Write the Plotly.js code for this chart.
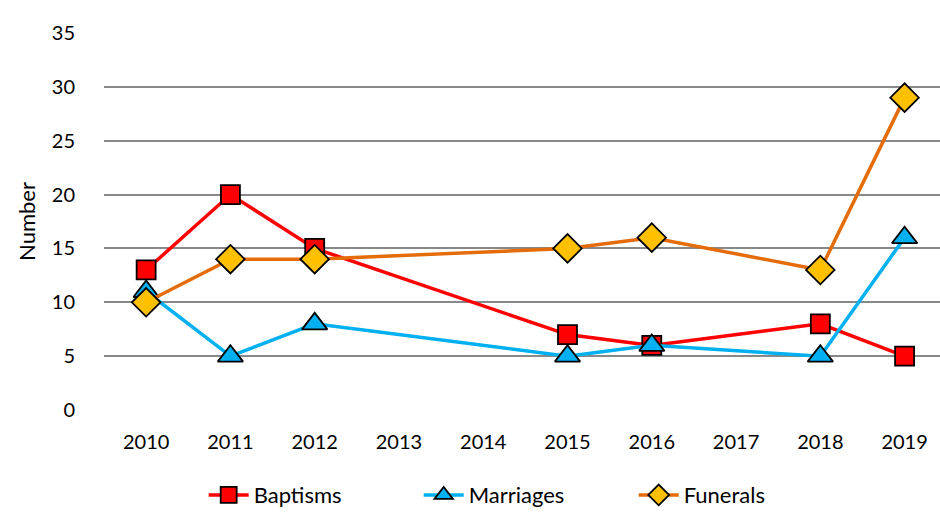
<!DOCTYPE html>
<html>
<head>
<meta charset="utf-8">
<script src="https://cdn.plot.ly/plotly-3.0.1.min.js"></script>
<style>html,body{margin:0;padding:0;background:#fff;}#chart{width:940px;height:517px;}</style>
</head>
<body>
<div id="chart"></div>
<script>
const years = ["2010","2011","2012","2013","2014","2015","2016","2017","2018","2019"];
const baptisms  = [13, 20, 15, null, null, 7, 6, null, 8, 5];
const marriages = [11, 5, 8, null, null, 5, 6, null, 5, 16];
const funerals  = [10, 14, 14, null, null, 15, 16, null, 13, 29];

const font = "Lato, 'Open Sans', sans-serif";

const traces = [
  {name:"Baptisms", x:years, y:baptisms, type:"scatter", mode:"lines+markers", connectgaps:true,
   line:{color:"#FF0000", width:3.5},
   marker:{symbol:"square", size:19, color:"#FF0000", line:{color:"#000", width:1.8}}},
  {name:"Marriages", x:years, y:marriages, type:"scatter", mode:"lines+markers", connectgaps:true,
   line:{color:"#00B0F0", width:3.5},
   marker:{symbol:"triangle-up", size:22, color:"#00B0F0", line:{color:"#000", width:1.8}}},
  {name:"Funerals", x:years, y:funerals, type:"scatter", mode:"lines+markers", connectgaps:true,
   line:{color:"#E46C0A", width:3.5},
   marker:{symbol:"diamond", size:22, color:"#FFC000", line:{color:"#000", width:1.8}}}
];

const layout = {
  width:940, height:517,
  margin:{l:104, r:0, t:33, b:107},
  paper_bgcolor:"#fff", plot_bgcolor:"#fff",
  font:{family:font, size:20, color:"#000"},
  showlegend:true,
  legend:{orientation:"h", x:0.505, xanchor:"center", y:-0.17, yanchor:"top",
          font:{family:font, size:22}, itemwidth:40, entrywidth:160, entrywidthmode:"pixels",
          traceorder:"normal"},
  xaxis:{type:"category", range:[-0.5, 9.42], showgrid:false, zeroline:false, showline:false,
         ticks:"outside", ticklen:14, tickcolor:"rgba(0,0,0,0)", tickfont:{size:20}},
  yaxis:{range:[0,35], dtick:5, showgrid:true, gridcolor:"#888888", gridwidth:2,
         zeroline:false, showline:false, ticks:"outside", ticklen:24, tickcolor:"rgba(0,0,0,0)",
         tickfont:{size:20},
         title:{text:"Number", font:{size:22}, standoff:10}}
};

Plotly.newPlot("chart", traces, layout, {displayModeBar:false, staticPlot:true});
</script>
</body>
</html>
